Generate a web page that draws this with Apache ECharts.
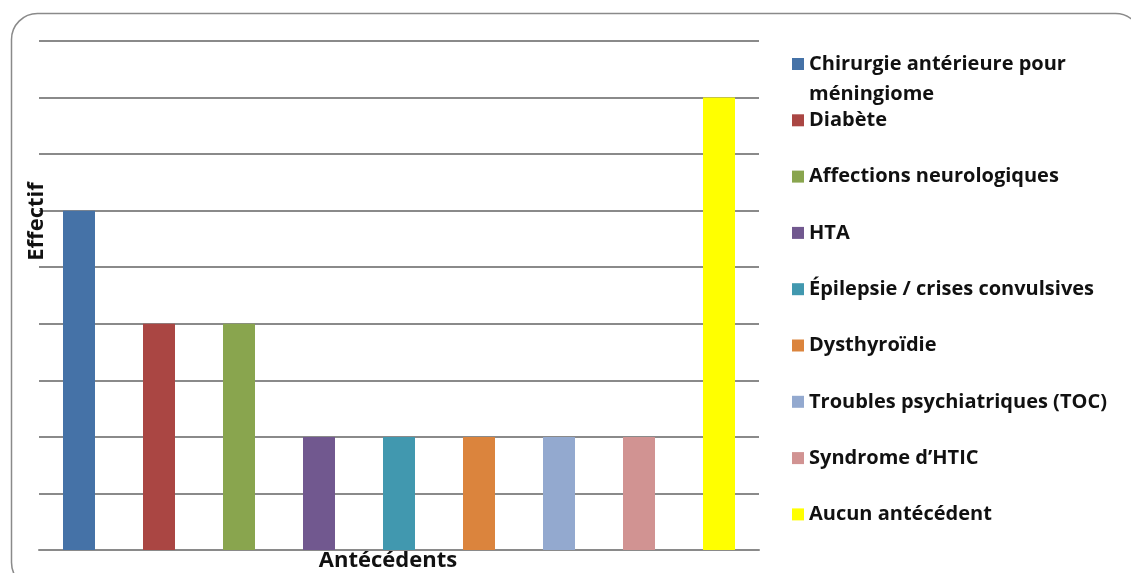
<!DOCTYPE html>
<html>
<head>
<meta charset="utf-8">
<script src="https://cdn.jsdelivr.net/npm/echarts@6/dist/echarts.min.js"></script>
<style>
  html, body { margin: 0; padding: 0; background: #ffffff; }
  #chart { width: 1131px; height: 573px; }
</style>
</head>
<body>
<div id="chart"></div>
<script>
// Antécédents des patients : effectif par catégorie
const categories = [
  'Chirurgie antérieure pour méningiome',
  'Diabète',
  'Affections neurologiques',
  'HTA',
  'Épilepsie / crises convulsives',
  'Dysthyroïdie',
  'Troubles psychiatriques (TOC)',
  'Syndrome d\u2019HTIC',
  'Aucun antécédent'
];
const effectifs = [6, 4, 4, 2, 2, 2, 2, 2, 8];
const colors = ['#4572A7', '#AA4643', '#89A54E', '#71588F', '#4198AF', '#DB843D', '#93A9CF', '#D19392', '#FFFF00'];
const yTicks = { min: 0, max: 9, interval: 1 };

const FONT = 'Open Sans';
const chart = echarts.init(document.getElementById('chart'), null, { renderer: 'canvas' });

// One series per category so each gets its own legend entry; stacking keeps
// every bar centred in its own category slot.
const series = categories.map((name, i) => ({
  name: name,
  type: 'bar',
  stack: 'all',
  barWidth: 32,
  itemStyle: { color: colors[i] },
  data: categories.map((_, j) => (j === i ? effectifs[i] : '-'))
}));

const legendText = {
  fontFamily: FONT,
  fontWeight: 'bold',
  fontSize: 20,
  color: '#111111'
};

chart.setOption({
  animation: false,
  backgroundColor: '#ffffff',
  color: colors,
  graphic: [{
    type: 'rect',
    left: 9, top: 11,
    shape: { width: 1130, height: 575, r: 26 },
    style: { fill: 'none', stroke: '#8a8a8a', lineWidth: 1.5 },
    z: -1
  }],
  legend: [
    {
      // long label wraps; the leading empty line keeps its first line level with the swatch
      orient: 'vertical',
      left: 792, top: 19,
      padding: 0,
      itemWidth: 12, itemHeight: 12,
      icon: 'rect',
      data: [categories[0]],
      formatter: () => ' \nChirurgie antérieure pour\nméningiome',
      textStyle: Object.assign({ lineHeight: 30 }, legendText)
    },
    {
      orient: 'vertical',
      left: 792, top: 110.3,
      padding: 0,
      itemWidth: 12, itemHeight: 12,
      itemGap: 36.3,
      icon: 'rect',
      data: categories.slice(1),
      textStyle: Object.assign({ lineHeight: 20 }, legendText)
    }
  ],
  grid: { left: 39, right: 372, top: 41, bottom: 23, containLabel: false, outerBoundsMode: 'none' },
  xAxis: {
    type: 'category',
    data: categories,
    name: 'Antécédents',
    nameLocation: 'middle',
    nameGap: 0,
    nameTextStyle: { fontFamily: FONT, fontWeight: 'bold', fontSize: 22, color: '#111111', padding: [0, 22, 0, 0] },
    axisLine: { show: true, lineStyle: { color: '#8a8a8a', width: 2 } },
    axisTick: { show: false },
    axisLabel: { show: false }
  },
  yAxis: {
    type: 'value',
    min: yTicks.min, max: yTicks.max, interval: yTicks.interval,
    name: 'Effectif',
    nameLocation: 'middle',
    nameGap: -9,
    nameRotate: 90,
    nameTextStyle: { fontFamily: FONT, fontWeight: 'bold', fontSize: 22, color: '#111111', padding: [0, 0, 0, 148] },
    axisLine: { show: false },
    axisTick: { show: false },
    axisLabel: { show: false },
    splitLine: { show: true, lineStyle: { color: '#8a8a8a', width: 2 } }
  },
  series: series
});
</script>
</body>
</html>
